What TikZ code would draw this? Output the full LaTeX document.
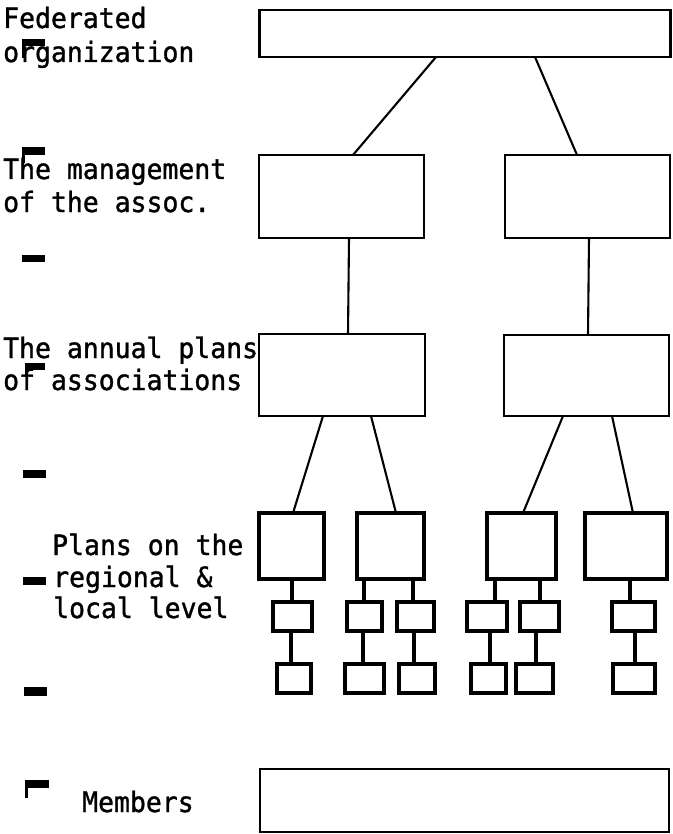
\documentclass[tikz,border=0pt]{standalone}
\usepackage{fontspec}
\newfontfamily\typer[FakeStretch=0.945,FakeBold=1.2]{DejaVu Sans Mono}
\begin{document}
\begin{tikzpicture}[x=1pt,y=-1pt,
  bigbox/.style={draw,line width=2.4pt,inner sep=0pt,outer sep=0pt},
  regbox/.style={draw,line width=3.2pt,inner sep=0pt,outer sep=0pt,minimum height=66pt},
  unitbox/.style={draw,line width=3.6pt,inner sep=0pt,outer sep=0pt,minimum height=29pt},
  link/.style={line width=2.1pt},
  thicklink/.style={line width=3.2pt},
  lbl/.style={anchor=base west,inner sep=0pt,font=\typer\fontsize{28}{34}\selectfont},
  tabmark/.style={fill=black}]
\useasboundingbox (0,0) rectangle (672,834);

% level labels
\node[lbl] (fedA) at (3,28) {Federated};
\node[lbl] (fedB) at (3,62) {organization};
\node[lbl] (mgA) at (3,179) {The management};
\node[lbl] (mgB) at (3,212) {of the assoc.};
\node[lbl] (anA) at (3,358) {The annual plans};
\node[lbl] (anB) at (3,390) {of associations};
\node[lbl] (rgA) at (52,555) {Plans on the};
\node[lbl] (rgB) at (53,587) {regional \&};
\node[lbl] (rgC) at (53,618) {local level};
\node[lbl] (memA) at (82,812) {Members};

% tab marks in the left margin
\fill[tabmark] (22,39) rectangle (45,46);
\fill[tabmark] (22,39) rectangle (25,58);
\fill[tabmark] (22,147) rectangle (45,155);
\fill[tabmark] (22,147) rectangle (25,163);
\fill[tabmark] (22,255) rectangle (45,262);
\fill[tabmark] (25,363) rectangle (45,370);
\fill[tabmark] (25,363) rectangle (27,377);
\fill[tabmark] (23,470) rectangle (46,478);
\fill[tabmark] (23,577) rectangle (46,585);
\fill[tabmark] (24,687) rectangle (47,696);
\fill[tabmark] (25,780) rectangle (49,788);
\fill[tabmark] (25,780) rectangle (28,798);

% federation and associations
\node[bigbox,minimum width=411pt,minimum height=47pt] (fed) at (465,33.5) {};
\node[bigbox,minimum width=165pt,minimum height=83pt] (mgL) at (341.5,196.5) {};
\node[bigbox,minimum width=165pt,minimum height=83pt] (mgR) at (587.5,196.5) {};
\node[bigbox,minimum width=166pt,minimum height=82pt] (anL) at (342,375) {};
\node[bigbox,minimum width=165pt,minimum height=81pt] (anR) at (586.5,375.5) {};

% regional plans
\node[regbox,minimum width=65pt] (rg1) at (291.5,546) {};
\node[regbox,minimum width=67pt] (rg2) at (390.5,546) {};
\node[regbox,minimum width=69pt] (rg3) at (521.5,546) {};
\node[regbox,minimum width=82pt] (rg4) at (626,546) {};

% local units, first row
\node[unitbox,minimum width=39pt] (s1a) at (292.5,616.5) {};
\node[unitbox,minimum width=35pt] (s2a) at (364.5,616.5) {};
\node[unitbox,minimum width=37pt] (s2b) at (415.5,616.5) {};
\node[unitbox,minimum width=40pt] (s3a) at (487,616.5) {};
\node[unitbox,minimum width=39pt] (s3b) at (539.5,616.5) {};
\node[unitbox,minimum width=43pt] (s4a) at (633.5,616.5) {};

% local units, second row
\node[unitbox,minimum width=34pt] (s1b) at (294,678.5) {};
\node[unitbox,minimum width=39pt] (s2c) at (364.5,678.5) {};
\node[unitbox,minimum width=36pt] (s2d) at (417,678.5) {};
\node[unitbox,minimum width=35pt] (s3c) at (488.5,678.5) {};
\node[unitbox,minimum width=37pt] (s3d) at (534.5,678.5) {};
\node[unitbox,minimum width=42pt] (s4b) at (634,678.5) {};

% members
\node[bigbox,minimum width=409pt,minimum height=63pt] (mem) at (464.5,800.5) {};

% connectors
\draw[link] (fed.south -| 436,0) -- (mgL.north -| 353,0);
\draw[link] (fed.south -| 535,0) -- (mgR.north -| 577,0);
\draw[link] (mgL.south -| 349,0) -- (anL.north -| 348,0);
\draw[link] (mgR.south -| 589,0) -- (anR.north -| 588,0);
\draw[link] (anL.south -| 323,0) -- (rg1.north -| 293,0);
\draw[link] (anL.south -| 371,0) -- (rg2.north -| 396,0);
\draw[link] (anR.south -| 563,0) -- (rg3.north -| 523,0);
\draw[link] (anR.south -| 612,0) -- (rg4.north -| 633,0);

\draw[thicklink] (rg1.south -| 292,0) -- (s1a.north -| 292,0);
\draw[thicklink] (rg2.south -| 364,0) -- (s2a.north -| 364,0);
\draw[thicklink] (rg2.south -| 413,0) -- (s2b.north -| 413,0);
\draw[thicklink] (rg3.south -| 495,0) -- (s3a.north -| 495,0);
\draw[thicklink] (rg3.south -| 540,0) -- (s3b.north -| 540,0);
\draw[thicklink] (rg4.south -| 630,0) -- (s4a.north -| 630,0);

\draw[thicklink] (s1a.south -| 291,0) -- (s1b.north -| 291,0);
\draw[thicklink] (s2a.south -| 363,0) -- (s2c.north -| 363,0);
\draw[thicklink] (s2b.south -| 414,0) -- (s2d.north -| 414,0);
\draw[thicklink] (s3a.south -| 490,0) -- (s3c.north -| 490,0);
\draw[thicklink] (s3b.south -| 536,0) -- (s3d.north -| 536,0);
\draw[thicklink] (s4a.south -| 635,0) -- (s4b.north -| 635,0);
\end{tikzpicture}
\end{document}
